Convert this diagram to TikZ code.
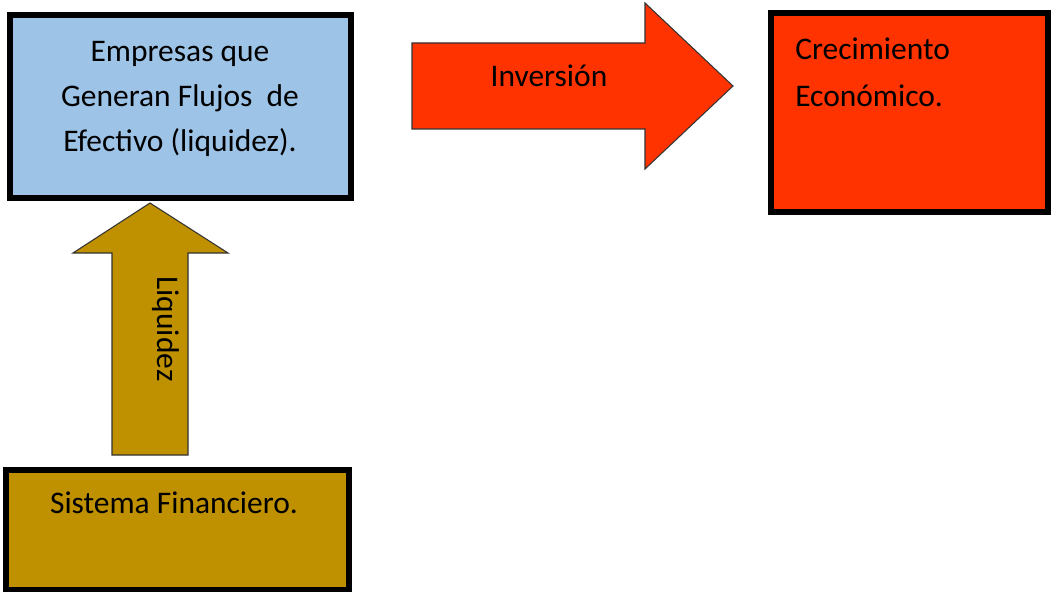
\documentclass[tikz,border=0pt]{standalone}
\usepackage{fontspec}
\setmainfont{Carlito}
\definecolor{azulcaja}{HTML}{9DC3E6}
\definecolor{rojocaja}{HTML}{FF3300}
\definecolor{orocaja}{HTML}{BF9000}
\begin{document}
\begin{tikzpicture}[x=0.75pt,y=-0.75pt,
   caja/.style={draw=black,line width=4.5pt},
   flecha/.style={draw=black!80,line width=0.8pt,line join=miter},
   texto/.style={font=\fontsize{23.6}{33.75}\selectfont,text=black,inner sep=0pt}]
   \useasboundingbox (0,0) rectangle (1051,592);
   % cajas
   \filldraw [caja,fill=azulcaja] (9.7,15.5) rectangle (351,198);
   \filldraw [caja,fill=rojocaja] (770.5,13) rectangle (1048,212);
   \filldraw [caja,fill=orocaja] (6,470) rectangle (349,590);
   % flechas
   \filldraw [flecha,fill=rojocaja] (412,43) -- (645,43) -- (645,3) -- (733,86) -- (645,169) -- (645,129) -- (412,129) -- cycle;
   \filldraw [flecha,fill=orocaja] (112,455) -- (112,253) -- (73,253) -- (150,203) -- (228,253) -- (188,253) -- (188,455) -- cycle;
   % textos
   \node [texto,align=center] (empresas) at (180,98.5) {Empresas que\\Generan Flujos\ \ de\\Efectivo (liquidez).};
   \node [texto,align=left,anchor=west,font=\fontsize{23.6}{35.25}\selectfont] (crecimiento) at (795,72) {Crecimiento\\Económico.};
   \node [texto,anchor=base] (inversion) at (549,87) {Inversión};
   \node [texto,anchor=base] (sistema) at (174,513) {Sistema Financiero.};
   \node [texto,rotate=-90] (liquidez) at (166,329) {Liquidez};
\end{tikzpicture}
\end{document}
